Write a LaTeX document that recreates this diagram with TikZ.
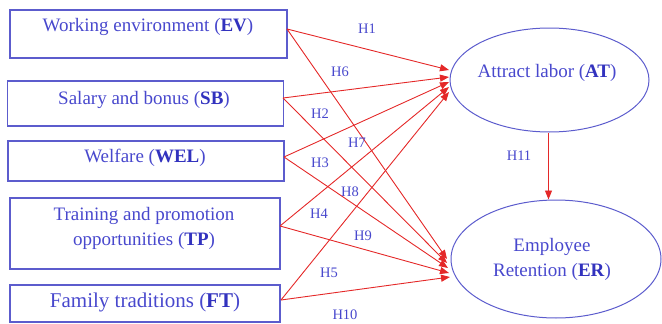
\documentclass[tikz,border=0pt]{standalone}
\usepackage{fontspec}
\setmainfont{Liberation Serif}
\usetikzlibrary{shapes.geometric,arrows.meta}
\definecolor{txtblue}{RGB}{72,72,205}
\definecolor{boldblue}{RGB}{50,50,190}
\definecolor{boxblue}{RGB}{92,92,205}
\definecolor{arrred}{RGB}{228,40,40}
\tikzset{
  box/.style={draw=boxblue,line width=1.1pt,inner sep=0pt},
  oval/.style={ellipse,draw=boxblue,line width=1pt,inner sep=0pt},
  txt/.style={text=txtblue,font=\fontsize{19}{25}\selectfont,align=center,inner sep=0pt},
  hlab/.style={text=txtblue,font=\fontsize{14.5}{16}\selectfont,inner sep=0pt},
  link/.style={draw=arrred,line width=0.9pt,-{Triangle[length=9pt,width=7pt]}},
}
\newcommand{\bb}[1]{\textcolor{boldblue}{\textbf{#1}}}
\begin{document}
\begin{tikzpicture}[x=1pt,y=-1pt]
\useasboundingbox (0,0) rectangle (662,324);
% boxes
\node[box,minimum width=277pt,minimum height=48pt] (ev) at (148.5,34) {};
\node[box,minimum width=276pt,minimum height=45pt] (sb) at (145.5,103.5) {};
\node[box,minimum width=276pt,minimum height=40pt] (wel) at (146,161) {};
\node[box,minimum width=270pt,minimum height=71pt] (tp) at (145,233.5) {};
\node[box,minimum width=270pt,minimum height=37pt] (ft) at (145,303.5) {};
\node[txt] (evt) at (148,27) {Working environment (\bb{EV})};
\node[txt] (sbt) at (144,100) {Salary and bonus (\bb{SB})};
\node[txt] (welt) at (145,158) {Welfare (\bb{WEL})};
\node[txt] (tpt) at (144,228) {Training and promotion\\opportunities (\bb{TP})};
\node[txt,font=\fontsize{21}{24}\selectfont] (ftt) at (145,302) {Family traditions (\bb{FT})};
% ellipses
\node[oval,minimum width=199pt,minimum height=104pt] (at) at (549.5,80) {};
\node[oval,minimum width=210pt,minimum height=118pt] (er) at (556,259) {};
\node[txt] (att) at (547,73) {Attract labor (\bb{AT})};
\node[txt] (ert) at (552,259) {Employee\\Retention (\bb{ER})};
% start points
\coordinate (evo) at (287,29);
\coordinate (sbo) at (283,98);
\coordinate (welo) at (284,157);
\coordinate (tpo) at (280,226);
\coordinate (fto) at (281,300);
% end points on AT
\coordinate (at1) at (449,70);
\coordinate (at2) at (449,77);
\coordinate (at3) at (449,82);
\coordinate (at4) at (449,87);
\coordinate (at5) at (449,92);
% end points on ER
\coordinate (er1) at (447,259);
\coordinate (er2) at (447,263);
\coordinate (er3) at (448,268);
\coordinate (er4) at (449,273);
\coordinate (er5) at (450,277);
% links
\draw[link] (evo) -- (at1);
\draw[link] (sbo) -- (at2);
\draw[link] (welo) -- (at3);
\draw[link] (tpo) -- (at4);
\draw[link] (fto) -- (at5);
\draw[link] (evo) -- (er1);
\draw[link] (sbo) -- (er2);
\draw[link] (welo) -- (er3);
\draw[link] (tpo) -- (er4);
\draw[link] (fto) -- (er5);
\draw[link] (at.south) ++(-1,0) coordinate (ats) (ats) -- (ats |- er.north);
% labels
\node[hlab] (h1) at (367,29) {H1};
\node[hlab] (h6) at (340,72) {H6};
\node[hlab] (h2) at (320,114) {H2};
\node[hlab] (h7) at (357,143) {H7};
\node[hlab] (h3) at (320,163) {H3};
\node[hlab] (h8) at (350,192) {H8};
\node[hlab] (h4) at (319,214) {H4};
\node[hlab] (h9) at (363,236) {H9};
\node[hlab] (h5) at (329,273) {H5};
\node[hlab] (h10) at (345,315) {H10};
\node[hlab] (h11) at (519,156) {H11};
\end{tikzpicture}
\end{document}
